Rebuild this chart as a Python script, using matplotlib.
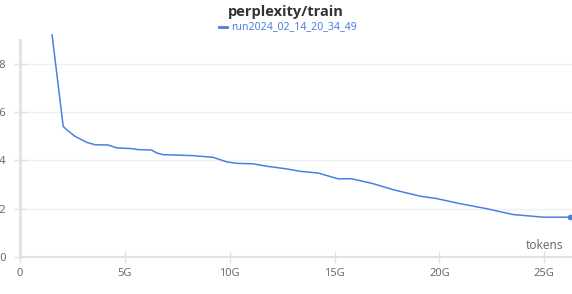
import matplotlib
matplotlib.use("Agg")
import matplotlib.pyplot as plt
from matplotlib.ticker import FuncFormatter

# tokens (in G) and train perplexity
tokens_g = [1.53, 2.06, 2.23, 2.62, 3.18, 3.58, 4.20, 4.61, 5.33, 5.63, 6.28,
            6.52, 6.83, 8.25, 9.20, 9.86, 10.33, 11.11, 11.76, 12.72, 13.35,
            14.21, 15.16, 15.82, 16.83, 17.79, 19.07, 19.87, 20.98, 22.26,
            23.51, 24.94, 26.23]
perplexity = [19.2, 15.41, 15.27, 15.0, 14.75, 14.65, 14.64, 14.52, 14.49,
              14.45, 14.43, 14.31, 14.24, 14.20, 14.13, 13.94, 13.88, 13.86,
              13.76, 13.65, 13.55, 13.48, 13.24, 13.24, 13.04, 12.79, 12.52,
              12.42, 12.21, 12.0, 11.76, 11.65, 11.65]
run_name = "run2024_02_14_20_34_49"
x_ticks = [0, 5, 10, 15, 20, 25]
y_ticks = [10, 12, 14, 16, 18]

blue = "#4a80e0"
grey_text = "#6b6b78"
axis_grey = "#e2e2e2"

plt.rcParams['font.family'] = ['Noto Sans', 'DejaVu Sans']

fig = plt.figure(figsize=(5.72, 2.94), dpi=100)
ax = fig.add_axes([20 / 572, 1 - 257 / 294, 552 / 572, 217 / 294])

ax.plot(tokens_g, perplexity, color=blue, linewidth=1.1, clip_on=False)
ax.plot(tokens_g[-1:], perplexity[-1:], 'o', color=blue, markersize=3, clip_on=False)

ax.set_xlim(0, 26.32)
ax.set_ylim(10, 18.99)
ax.set_xticks(x_ticks)
ax.xaxis.set_major_formatter(FuncFormatter(lambda v, p: "0" if v == 0 else f"{int(v)}G"))
ax.set_yticks(y_ticks)
ax.yaxis.set_major_formatter(FuncFormatter(lambda v, p: f"{int(v)}"))

for s in ['top', 'right']:
    ax.spines[s].set_visible(False)
ax.spines['left'].set_color(axis_grey)
ax.spines['left'].set_linewidth(2)
ax.spines['bottom'].set_color(axis_grey)
ax.spines['bottom'].set_linewidth(1.5)

ax.tick_params(axis='both', direction='inout', length=8, width=1, color=axis_grey,
               labelcolor=grey_text, labelsize=8)
ax.tick_params(axis='x', pad=4)
ax.tick_params(axis='y', pad=6)
ax.grid(axis='y', color='#f0f0f0', linewidth=1)
ax.set_axisbelow(True)

ax.text(543 / 552, 0.025, "tokens", transform=ax.transAxes, ha='right', va='bottom',
        color=grey_text, fontsize=8.5)

fig.text(0.5, 1 - 12 / 294, "perplexity/train", ha='center', va='center',
         fontsize=10.5, fontweight='bold', color='#333333',
         family=['Open Sans', 'DejaVu Sans'])
fig.lines.append(plt.Line2D([219 / 572, 227 / 572], [1 - 27 / 294] * 2,
                            transform=fig.transFigure, color=blue, linewidth=2))
fig.text(231 / 572, 1 - 27 / 294, run_name, ha='left', va='center',
         fontsize=7.6, color=blue)

fig.savefig("out.png", dpi=100)
